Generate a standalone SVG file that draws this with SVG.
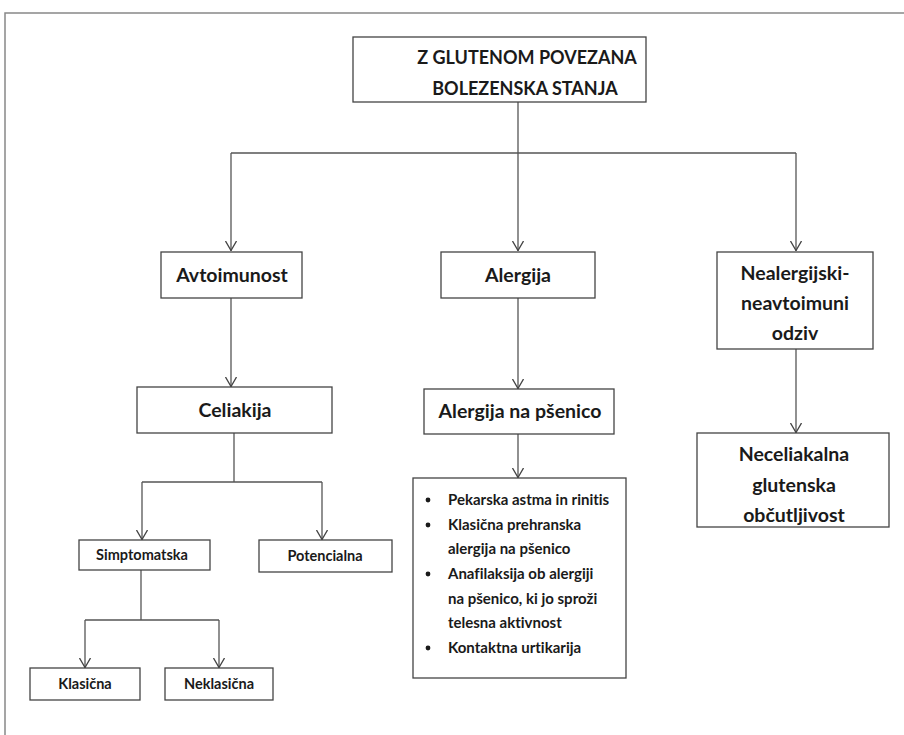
<svg xmlns="http://www.w3.org/2000/svg" width="904" height="735" viewBox="0 0 904 735">
<defs>
<marker id="arr" viewBox="0 0 10 12" refX="10" refY="6" markerWidth="10" markerHeight="12" markerUnits="userSpaceOnUse" orient="auto">
<path d="M0,0.5 L9.5,6 L0,11.5" fill="none" stroke="#444" stroke-width="1.3"/>
</marker>
</defs>
<style>
text{font-family:Lato,"Open Sans","Liberation Sans",sans-serif;font-weight:bold;fill:#1a1a1a;font-variant-ligatures:none}
.t{text-anchor:middle}
.top{font-size:18px}
.big{font-size:19.5px}
.sm{font-size:14.5px}
.li{font-size:15px}
.box{fill:#fff;stroke:#444;stroke-width:1.3}
.ln{fill:none;stroke:#555;stroke-width:1.3}
.frame{fill:none;stroke:#888;stroke-width:1.5}
</style>
<rect width="904" height="735" fill="#fff"/>
<path class="frame" d="M5,735 V13 H904"/>
<g id="connectors">
<path class="ln" d="M518,102 V153"/>
<path class="ln" d="M231,153 H796"/>
<path class="ln" d="M231,153 V251" marker-end="url(#arr)"/>
<path class="ln" d="M518,153 V251" marker-end="url(#arr)"/>
<path class="ln" d="M796,153 V251" marker-end="url(#arr)"/>
<path class="ln" d="M231,298 V387" marker-end="url(#arr)"/>
<path class="ln" d="M518,298 V389" marker-end="url(#arr)"/>
<path class="ln" d="M796,349 V433" marker-end="url(#arr)"/>
<path class="ln" d="M518,434 V478" marker-end="url(#arr)"/>
<path class="ln" d="M234,433 V482"/>
<path class="ln" d="M142,482 H322"/>
<path class="ln" d="M142,482 V540" marker-end="url(#arr)"/>
<path class="ln" d="M322,482 V540" marker-end="url(#arr)"/>
<path class="ln" d="M141,570 V620"/>
<path class="ln" d="M85,620 H219"/>
<path class="ln" d="M85,620 V668" marker-end="url(#arr)"/>
<path class="ln" d="M219,620 V668" marker-end="url(#arr)"/>
</g>
<g id="root">
<rect class="box" x="353" y="37" width="293" height="65"/>
<text class="t top" x="527" y="64">Z GLUTENOM POVEZANA</text>
<text class="t top" x="525" y="95">BOLEZENSKA STANJA</text>
</g>
<g id="avtoimunost">
<rect class="box" x="161" y="252" width="141" height="46"/>
<text class="t big" x="232" y="282">Avtoimunost</text>
</g>
<g id="alergija">
<rect class="box" x="441" y="252" width="154" height="46"/>
<text class="t big" x="518" y="282">Alergija</text>
</g>
<g id="nealergijski">
<rect class="box" x="717" y="252" width="156" height="97"/>
<text class="t big" x="795" y="280">Nealergijski-</text>
<text class="t big" x="795" y="310">neavtoimuni</text>
<text class="t big" x="795" y="340">odziv</text>
</g>
<g id="celiakija">
<rect class="box" x="137" y="387" width="195" height="46"/>
<text class="t big" x="235" y="417">Celiakija</text>
</g>
<g id="alergija-psenico">
<rect class="box" x="424" y="389" width="190" height="45"/>
<text class="t big" x="520" y="418">Alergija na pšenico</text>
</g>
<g id="neceliakalna">
<rect class="box" x="697" y="433" width="192" height="94"/>
<text class="t big" x="794" y="461">Neceliakalna</text>
<text class="t big" x="794" y="492">glutenska</text>
<text class="t big" x="794" y="522">občutljivost</text>
</g>
<g id="seznam">
<rect class="box" x="413" y="478" width="213" height="200"/>
<circle cx="428" cy="500" r="2.4" fill="#1a1a1a"/>
<circle cx="428" cy="525" r="2.4" fill="#1a1a1a"/>
<circle cx="428" cy="574" r="2.4" fill="#1a1a1a"/>
<circle cx="428" cy="648" r="2.4" fill="#1a1a1a"/>
<text class="li" x="448" y="505">Pekarska astma in rinitis</text>
<text class="li" x="448" y="530">Klasična prehranska</text>
<text class="li" x="448" y="554">alergija na pšenico</text>
<text class="li" x="448" y="579">Anafilaksija ob alergiji</text>
<text class="li" x="448" y="604">na pšenico, ki jo sproži</text>
<text class="li" x="448" y="628">telesna aktivnost</text>
<text class="li" x="448" y="653">Kontaktna urtikarija</text>
</g>
<g id="simptomatska">
<rect class="box" x="79" y="540" width="131" height="30"/>
<text class="t sm" x="142" y="560">Simptomatska</text>
</g>
<g id="potencialna">
<rect class="box" x="259" y="540" width="133" height="32"/>
<text class="t sm" x="325" y="561">Potencialna</text>
</g>
<g id="klasicna">
<rect class="box" x="30" y="668" width="110" height="32"/>
<text class="t sm" x="85" y="689">Klasična</text>
</g>
<g id="neklasicna">
<rect class="box" x="165" y="668" width="108" height="32"/>
<text class="t sm" x="219" y="689">Neklasična</text>
</g>
</svg>
